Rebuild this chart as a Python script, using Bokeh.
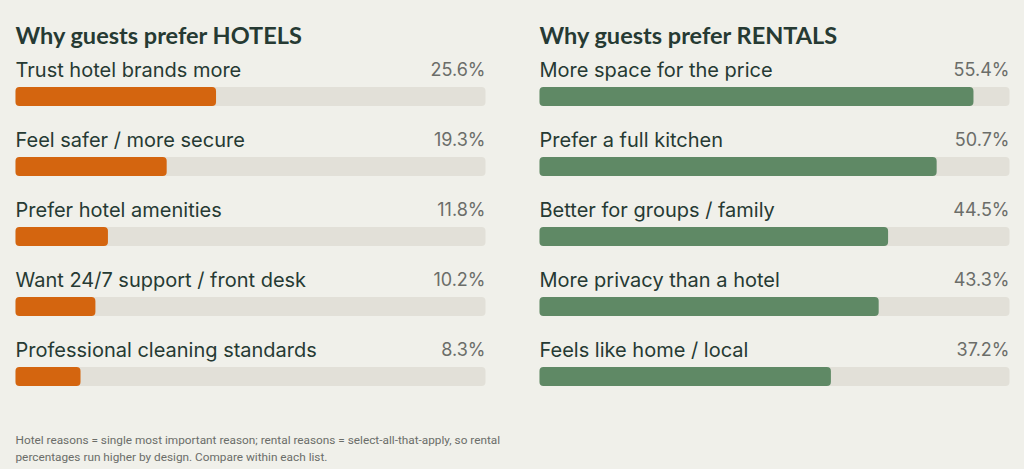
from bokeh.plotting import figure
from bokeh.models import Range1d, Label, ColumnDataSource
from bokeh.layouts import row
from bokeh.embed import file_html
from bokeh.resources import INLINE
from bokeh.core.properties import value

# Survey results
hotel_reasons = [
    "Trust hotel brands more",
    "Feel safer / more secure",
    "Prefer hotel amenities",
    "Want 24/7 support / front desk",
    "Professional cleaning standards",
]
hotel_pct = [25.6, 19.3, 11.8, 10.2, 8.3]

rental_reasons = [
    "More space for the price",
    "Prefer a full kitchen",
    "Better for groups / family",
    "More privacy than a hotel",
    "Feels like home / local",
]
rental_pct = [55.4, 50.7, 44.5, 43.3, 37.2]

scale_max = 60.0
footnote = [
    "Hotel reasons = single most important reason; rental reasons = select-all-that-apply, so rental",
    "percentages run higher by design. Compare within each list.",
]

BG = "#f0f0ea"
TRACK = "#e2e0d8"
INK = "#263a33"
MUTED = "#6b6d69"
LABEL_FONT = "Inter"
TITLE_FONT = "Lato"
NOTE_FONT = "Roboto"

H = 469
TRACK_PX = 470          # pixel length of a full track
PAD = 15                # left padding inside each panel
ROW_PX = 70             # vertical spacing between rows
FIRST_ROW_PX = 96       # centre of the first bar from the top


def panel(title, reasons, pct, color, width, notes=None):
    k = TRACK_PX / scale_max
    p = figure(width=width, height=H, output_backend="svg", toolbar_location=None,
               x_range=Range1d(-PAD / k, (width - PAD) / k),
               y_range=Range1d((H - FIRST_ROW_PX) / ROW_PX, -FIRST_ROW_PX / ROW_PX),
               min_border=0, background_fill_color=BG, border_fill_color=BG,
               outline_line_color=None)
    p.axis.visible = False
    p.grid.visible = False

    idx = list(range(len(reasons)))
    src = ColumnDataSource(dict(
        y=idx, pct=pct, full=[scale_max] * len(idx), name=reasons,
        lab=[f"{v:.1f}%" for v in pct],
    ))
    bar_h = 19 / ROW_PX
    p.hbar(y="y", left=0, right="full", height=bar_h, source=src,
           fill_color=TRACK, line_color=None, border_radius=4)
    p.hbar(y="y", left=0, right="pct", height=bar_h, source=src,
           fill_color=color, line_color=None, border_radius=4)

    p.text(x=0, y="y", text="name", source=src, y_offset=-27,
           text_font=value(LABEL_FONT), text_font_size="20px", text_color=INK,
           text_baseline="alphabetic", text_align="left")
    p.text(x="full", y="y", text="lab", source=src, y_offset=-27,
           text_font=value(LABEL_FONT), text_font_size="18px", text_color=MUTED,
           text_baseline="alphabetic", text_align="right")

    p.add_layout(Label(x=PAD, y=H - 34, x_units="screen", y_units="screen",
                       text=title, text_font=TITLE_FONT, text_font_size="23.5px",
                       text_font_style="bold", text_color=INK,
                       text_baseline="alphabetic"))
    if notes:
        for i, line in enumerate(notes):
            p.add_layout(Label(x=PAD, y=H - 439 - 17 * i, x_units="screen",
                               y_units="screen", text=line, text_font=NOTE_FONT,
                               text_font_size="11.8px", text_color=MUTED,
                               text_baseline="alphabetic"))
    return p


left = panel("Why guests prefer HOTELS", hotel_reasons, hotel_pct, "#d4650f", 524,
             notes=footnote)
right = panel("Why guests prefer RENTALS", rental_reasons, rental_pct, "#5f8965", 500)

layout = row(left, right, spacing=0)
html = file_html(layout, INLINE)
html = html.replace("<body>", f'<body style="margin:0;background:{BG}">')
open("out.html", "w").write(html)
